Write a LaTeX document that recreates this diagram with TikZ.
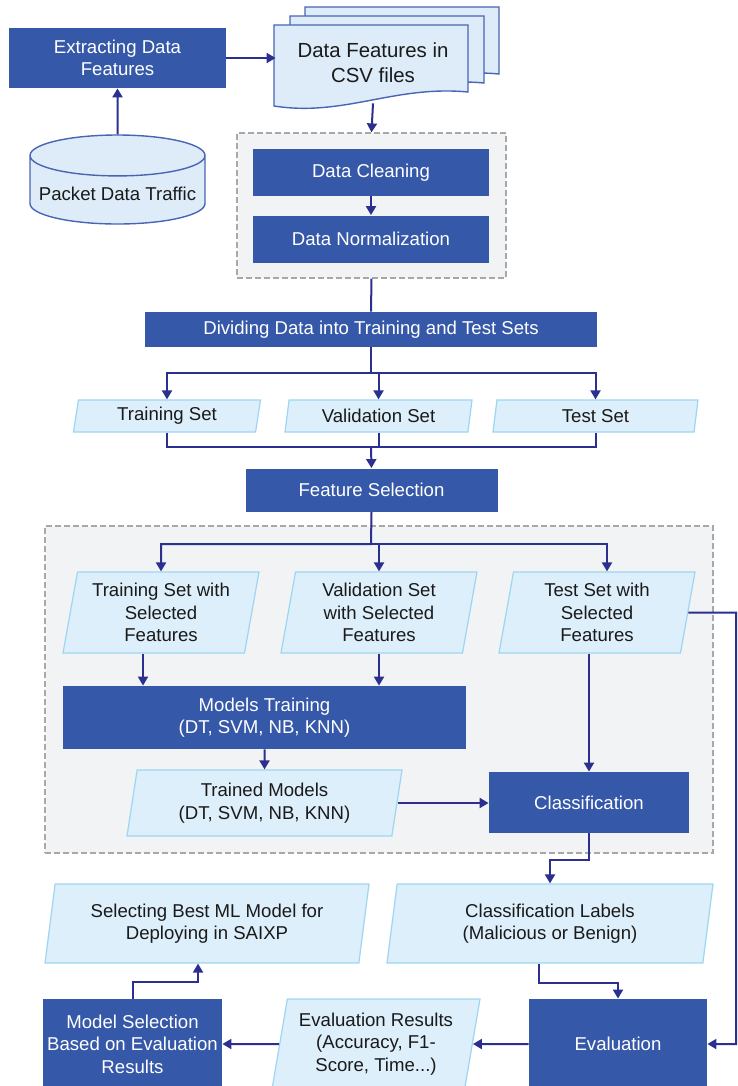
\documentclass[tikz,border=0pt]{standalone}
\usepackage{fontspec}
\setmainfont{Liberation Sans}
\usepackage{tikz}
\usetikzlibrary{shapes.geometric,arrows.meta,positioning}
\definecolor{procblue}{HTML}{3558A8}
\definecolor{datafill}{HTML}{DDEFFA}
\definecolor{dataline}{HTML}{9DD5F2}
\definecolor{docfill}{HTML}{DDECF8}
\definecolor{docline}{HTML}{4A64B4}
\definecolor{flowline}{HTML}{2B3090}
\definecolor{groupfill}{HTML}{F2F3F5}
\definecolor{groupline}{HTML}{A8A8A8}
\definecolor{inktext}{HTML}{1A1A1A}
\tikzset{
  procbox/.style={rectangle,fill=procblue,text=white,align=center,inner sep=1pt,
    font=\fontsize{9.3}{11.3}\selectfont},
  databox/.style={trapezium,trapezium left angle=77,trapezium right angle=103,
    trapezium stretches body,draw=dataline,line width=0.6pt,fill=datafill,
    text=inktext,align=center,inner sep=1pt,font=\fontsize{9.3}{11.3}\selectfont},
  groupbox/.style={rectangle,draw=groupline,fill=groupfill,line width=0.6pt,
    dash pattern=on 3pt off 1.5pt},
  docsheet/.style={draw=docline,fill=docfill,line width=0.7pt},
  pktdb/.style={cylinder,shape border rotate=90,aspect=0.24,draw=docline,
    fill=docfill,line width=0.7pt,text=inktext,font=\fontsize{9.3}{11.3}\selectfont},
  arr/.style={draw=flowline,line width=1pt,-{Triangle[length=4.5pt,width=5pt]}},
  flow/.style={draw=flowline,line width=1pt},
}
\begin{document}
\begin{tikzpicture}[x=0.5pt,y=-0.5pt]
\useasboundingbox (0,0) rectangle (738,1086);

\node[procbox,minimum width=108.5pt,minimum height=30pt] (extract) at (117.5,58) {Extracting Data\\Features};
\foreach \sx/\sy in {305/7,290/16,274/25}{
  \begin{scope}[shift={(\sx,\sy)}]
    \draw[docsheet] (0,0) -- (194,0) -- (194,67) .. controls (120,60) and (70,92) .. (0,81) -- cycle;
  \end{scope}
}
\node[minimum width=97pt,minimum height=40pt,text=inktext,align=center,
  font=\fontsize{10.2}{12.5}\selectfont] (csv) at (373,63) {Data Features in\\CSV files};
\node[pktdb,minimum width=87.5pt,minimum height=44.5pt] (pkt) at (117.5,194) {Packet Data Traffic};

\node[groupbox,minimum width=134.5pt,minimum height=72.5pt] (prep) at (371.5,205.5) {};
\node[procbox,minimum width=118pt,minimum height=23.5pt] (clean) at (371,172.5) {Data Cleaning};
\node[procbox,minimum width=118pt,minimum height=23.5pt] (norm) at (371,239) {Data Normalization};

\node[procbox,minimum width=226pt,minimum height=17.5pt] (divide) at (371,329.5) {Dividing Data into Training and Test Sets};
\node[databox,minimum width=93.5pt,minimum height=16pt] (trainset) at (167,416) {Training Set};
\node[databox,minimum width=93.5pt,minimum height=16pt] (valset) at (378.5,416) {Validation Set};
\node[databox,minimum width=102.5pt,minimum height=16pt] (testset) at (595.5,416) {Test Set};
\node[procbox,minimum width=126pt,minimum height=21.5pt] (featsel) at (371.5,490) {Feature Selection};

\node[groupbox,minimum width=334pt,minimum height=163.5pt] (modgroup) at (379,689.5) {};
\node[databox,minimum width=98pt,minimum height=40.5pt] (trainsel) at (161,612.5) {Training Set with\\Selected\\Features};
\node[databox,minimum width=98pt,minimum height=40.5pt] (valsel) at (379,612.5) {Validation Set\\with Selected\\Features};
\node[databox,minimum width=98pt,minimum height=40.5pt] (testsel) at (597,612.5) {Test Set with\\Selected\\Features};
\node[procbox,minimum width=201.5pt,minimum height=31.5pt] (models) at (264.5,717.5) {Models Training\\(DT, SVM, NB, KNN)};
\node[databox,minimum width=137.5pt,minimum height=33pt] (trained) at (264.5,803) {Trained Models\\(DT, SVM, NB, KNN)};
\node[procbox,minimum width=100pt,minimum height=30.5pt] (class) at (589,802.5) {Classification};

\node[databox,minimum width=163pt,minimum height=39.5pt] (labels) at (550,923.5) {Classification Labels\\(Malicious or Benign)};
\node[databox,minimum width=162pt,minimum height=39.5pt] (select) at (207,923.5) {Selecting Best ML Model for\\Deploying in SAIXP};
\node[procbox,minimum width=89pt,minimum height=45pt] (eval) at (618,1044) {Evaluation};
\node[databox,minimum width=104pt,minimum height=45pt] (results) at (376,1044) {Evaluation Results\\(Accuracy, F1-\\Score, Time...)};
\node[procbox,minimum width=89.5pt,minimum height=45pt] (modsel) at (132.5,1044) {Model Selection\\Based on Evaluation\\Results};

\coordinate (split1) at (371,373);
\coordinate (merge1) at (371,447);
\coordinate (split2) at (371,544);
\coordinate (rimpt) at (736,612.5);

\draw[arr] (extract.east) -- (extract.east -| csv.west);
\draw[arr] (pkt.north) -- (extract.south);
\draw[arr] (csv.south) -- (prep.north);
\draw[arr] (clean.south) -- (norm.north);
\draw[flow] (prep.south) -- (divide.north);
\draw[arr] (divide.south) -- (split1) -| (trainset.north);
\draw[arr] (split1) -| (valset.north);
\draw[arr] (split1) -| (testset.north);
\draw[flow] (trainset.south) |- (merge1);
\draw[flow] (valset.south) |- (merge1);
\draw[flow] (testset.south) |- (merge1);
\draw[arr] (merge1) -- (featsel.north);
\draw[arr] (featsel.south) -- (split2) -| (trainsel.north);
\draw[arr] (split2) -| (valsel.north);
\draw[arr] (split2) -| ([xshift=5pt]testsel.north);
\draw[arr] ([xshift=-9pt]trainsel.south) -- ([xshift=-9pt]trainsel.south |- models.north);
\draw[arr] (valsel.south) -- (valsel.south |- models.north);
\draw[arr] (models.south) -- (trained.north);
\draw[arr] (trained.east) -- (trained.east -| class.west);
\draw[arr] (class.north |- testsel.south) -- (class.north);
\draw[arr] (class.south) -- ++(0,27) -| (labels.north);
\draw[arr] (testsel.east) -- (rimpt) |- (eval.east);
\draw[arr] ([xshift=-5.5pt]labels.south) -- ++(0,19) -| (eval.north);
\draw[arr] (eval.west) -- (results.east);
\draw[arr] (results.west) -- (modsel.east);
\draw[arr] (modsel.north) -- ++(0,-17) -| ([xshift=-4.5pt]select.south);
\end{tikzpicture}
\end{document}
